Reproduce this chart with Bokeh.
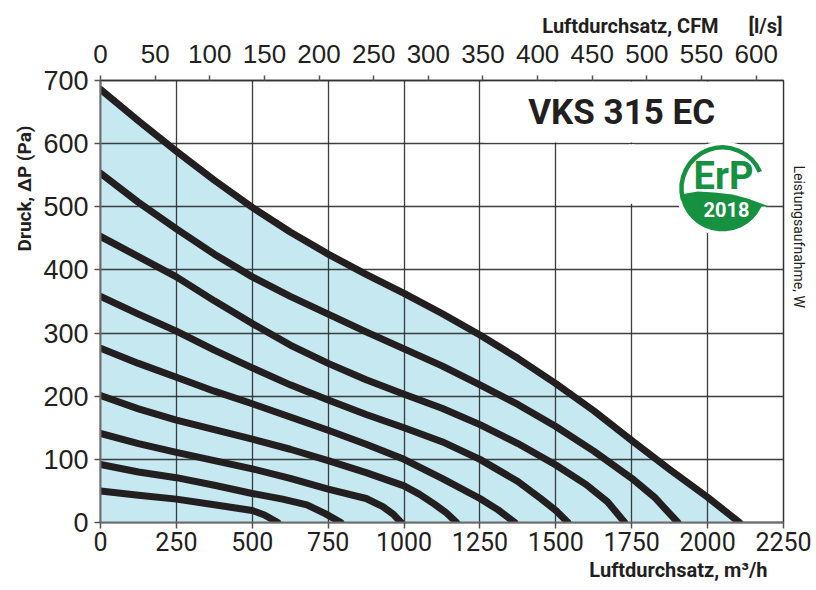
import math
from bokeh.plotting import figure
from bokeh.models import Range1d, LinearAxis, FixedTicker, Label, Title
from bokeh.embed import file_html
from bokeh.resources import INLINE

# ---------------- data ----------------
FLOW_1 = [0, 125, 250, 375, 500, 625, 750, 875, 1000, 1125, 1250, 1375, 1500, 1625, 1750, 1875, 2000, 2105]
PRESS_1 = [686, 636, 588, 542, 499, 460, 425, 393, 363, 331, 297, 260, 220, 177, 130, 84, 40, 0]

FLOW_2 = [0, 125, 250, 375, 500, 625, 750, 875, 1000, 1125, 1250, 1375, 1500, 1625, 1750, 1825, 1902]
PRESS_2 = [553, 507, 465, 425, 389, 358, 330, 302, 275, 248, 218, 187, 152, 113, 70, 40, 0]

FLOW_3 = [0, 125, 250, 375, 500, 625, 750, 875, 1000, 1125, 1250, 1375, 1500, 1600, 1670, 1727]
PRESS_3 = [453, 421, 389, 351, 315, 281, 252, 226, 203, 181, 155, 125, 91, 60, 33, 0]

FLOW_4 = [0, 125, 250, 375, 500, 625, 750, 875, 1000, 1125, 1250, 1375, 1450, 1500, 1540]
PRESS_4 = [358, 330, 303, 273, 245, 218, 194, 171, 150, 128, 100, 65, 38, 19, 0]

FLOW_5 = [0, 125, 250, 375, 500, 625, 750, 875, 1000, 1125, 1250, 1310, 1365]
PRESS_5 = [276, 252, 230, 208, 188, 167, 146, 124, 100, 70, 38, 20, 0]

FLOW_6 = [0, 125, 250, 375, 500, 625, 750, 875, 1000, 1050, 1100, 1140, 1173]
PRESS_6 = [201, 180, 162, 147, 132, 116, 98, 79, 58, 45, 29, 15, 0]

FLOW_7 = [0, 125, 250, 375, 500, 625, 750, 875, 930, 965, 990]
PRESS_7 = [141, 125, 111, 98, 85, 70, 53, 38, 25, 13, 0]

FLOW_8 = [0, 125, 250, 375, 500, 600, 680, 740, 792]
PRESS_8 = [92, 80, 71, 59, 46, 37, 28, 14, 0]

FLOW_9 = [0, 125, 250, 375, 500, 540, 584]
PRESS_9 = [50, 43, 37, 28, 19, 12, 0]

CURVES = [(FLOW_1, PRESS_1), (FLOW_2, PRESS_2), (FLOW_3, PRESS_3), (FLOW_4, PRESS_4),
          (FLOW_5, PRESS_5), (FLOW_6, PRESS_6), (FLOW_7, PRESS_7), (FLOW_8, PRESS_8),
          (FLOW_9, PRESS_9)]

X_TICKS = [0, 250, 500, 750, 1000, 1250, 1500, 1750, 2000, 2250]
Y_TICKS = [0, 100, 200, 300, 400, 500, 600, 700]
LS_TICKS = [0, 50, 100, 150, 200, 250, 300, 350, 400, 450, 500, 550, 600]

TITLE = "VKS 315 EC"
X_LABEL = "Luftdurchsatz, m\u00b3/h"
TOP_LABEL = "Luftdurchsatz, CFM\u00a0\u00a0\u00a0\u00a0\u00a0\u00a0[l/s]"
Y_LABEL = "Druck, \u0394P (Pa)"
RIGHT_LABEL = "Leistungsaufnahme, W"

# ---------------- styling ----------------
X_MAX, Y_MAX = 2250, 700
FRAME_W, FRAME_H = 684, 442
SX = FRAME_W / X_MAX   # px per m3/h
SY = FRAME_H / Y_MAX   # px per Pa
FILL = "#c5e8f1"
INK = "#231f20"
GREEN = "#16913f"
SANS = "Liberation Sans"
BOLD = "Roboto"

p = figure(width=816, height=590,
           x_range=Range1d(0, X_MAX), y_range=Range1d(0, Y_MAX),
           output_backend="svg", toolbar_location=None, title_location=None,
           min_border_left=100, min_border_right=32,
           min_border_top=80, min_border_bottom=68)
p.background_fill_color = "white"
p.border_fill_color = "white"
p.outline_line_color = "#333333"
p.outline_line_width = 1.5

bottom_axis = p.below[0]
left_axis = p.left[0]
bottom_axis.ticker = FixedTicker(ticks=X_TICKS)
left_axis.ticker = FixedTicker(ticks=Y_TICKS)

p.extra_x_ranges = {"ls": Range1d(0, X_MAX / 3.6)}
top_axis = LinearAxis(x_range_name="ls", ticker=FixedTicker(ticks=LS_TICKS))
p.add_layout(top_axis, "above")

for ax in (bottom_axis, left_axis, top_axis):
    ax.axis_line_color = "#6d6d6d"
    ax.axis_line_width = 2
    ax.major_tick_line_color = "#555555"
    ax.major_tick_line_width = 1.5
    ax.major_tick_out = 6
    ax.major_tick_in = 0
    ax.minor_tick_line_color = None
    ax.major_label_text_color = INK
top_axis.axis_line_color = "#333333"
top_axis.axis_line_width = 1.5
top_axis.major_tick_out = 5

left_axis.major_label_text_font = SANS
left_axis.major_label_text_font_size = "27px"
left_axis.major_label_standoff = 6
bottom_axis.major_label_text_font = BOLD
bottom_axis.major_label_text_font_size = "25px"
bottom_axis.major_label_standoff = 3
top_axis.major_label_text_font = SANS
top_axis.major_label_text_font_size = "26px"
top_axis.major_label_standoff = 13

p.xgrid.ticker = FixedTicker(ticks=X_TICKS)
p.ygrid.ticker = FixedTicker(ticks=Y_TICKS)
for g in (p.xgrid, p.ygrid):
    g.grid_line_color = "#2a2a2a"
    g.grid_line_width = 1.3
    g.grid_line_alpha = 0.9

# ---------------- outer texts (titles in the side panels) ----------------
p.add_layout(Title(text=TOP_LABEL, align="right", offset=1, standoff=7,
                   text_font=BOLD, text_font_size="20px", text_font_style="bold",
                   text_color=INK), "above")
p.add_layout(Title(text=X_LABEL, align="right", offset=16, standoff=5,
                   text_font=BOLD, text_font_size="20px", text_font_style="bold",
                   text_color=INK), "below")
p.add_layout(Title(text=Y_LABEL, align="right", offset=45, standoff=10,
                   text_font=BOLD, text_font_size="19px", text_font_style="bold",
                   text_color=INK), "left")
p.add_layout(Title(text=RIGHT_LABEL, align="left", offset=85, standoff=15,
                   text_font=BOLD, text_font_size="14px", text_font_style="normal",
                   text_color=INK), "right")

# working area (under the top curve)
area = p.varea(x=FLOW_1, y1=0, y2=PRESS_1, fill_color=FILL)
area.level = "image"

# white boxes that hide the grid behind the title
p.quad(left=[1262, 1742], right=[2246, 1758], bottom=[602, 505], top=[698.5, 599],
       fill_color="white", line_color=None)

# characteristic curves
for fx, py in CURVES:
    p.line(fx, py, line_width=7, line_color=INK, line_cap="round", line_join="round")

# ---------------- ErP logo ----------------
LOGO_X, LOGO_Y = 2049, 529
def px2d(dx, dy):
    return LOGO_X + dx / SX, LOGO_Y + dy / SY

p.scatter(x=[LOGO_X], y=[LOGO_Y], size=94, marker="circle", fill_color="white", line_color=None)
p.arc(x=[LOGO_X], y=[LOGO_Y], radius=41, radius_units="screen",
      start_angle=math.radians(24), end_angle=math.radians(196), direction="anticlock",
      line_color=GREEN, line_width=4.5)
leaf = [(-42, -6), (-25, -3), (-8, -4), (10, -6), (25, -10), (36, -14), (47, -18)]
R = 43
for a in range(335, 185, -10):
    t = math.radians(a)
    leaf.append((R * math.cos(t), R * math.sin(t)))
leaf.append((R * math.cos(math.radians(188)), R * math.sin(math.radians(188))))
lx, ly = zip(*[px2d(dx, dy) for dx, dy in leaf])
p.patch(list(lx), list(ly), fill_color=GREEN, line_color=None)

ex, ey = px2d(1, 12)
p.add_layout(Label(x=ex, y=ey, text="ErP", text_font=BOLD, text_font_size="38px",
                   text_font_style="bold", text_color=GREEN, text_align="center",
                   text_baseline="middle"))
tx, ty = px2d(4, -21)
p.add_layout(Label(x=tx, y=ty, text="2018", text_font=BOLD, text_font_size="20px",
                   text_font_style="bold", text_color="white", text_align="center",
                   text_baseline="middle"))

# title inside the chart
p.add_layout(Label(x=1717, y=649, text=TITLE, text_font=BOLD, text_font_size="35px",
                   text_font_style="bold", text_color=INK, text_align="center",
                   text_baseline="middle"))

open("out.html", "w").write(file_html(p, INLINE))
